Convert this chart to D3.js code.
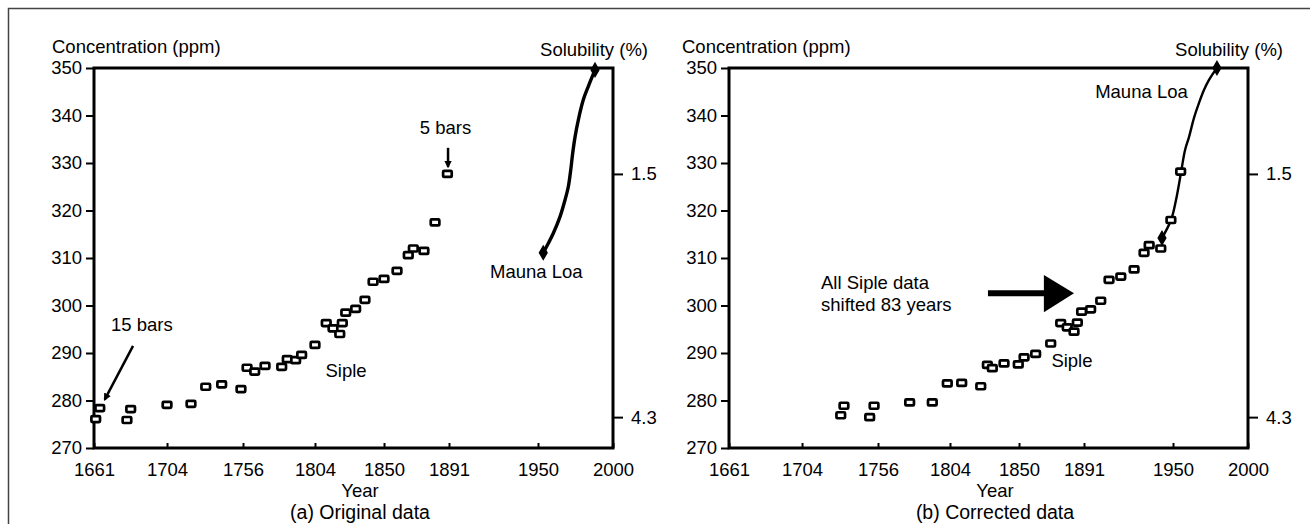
<!DOCTYPE html>
<html>
<head>
<meta charset="utf-8">
<script src="https://cdn.jsdelivr.net/npm/d3@7"></script>
<style>
  body { margin: 0; background: #fff; }
  text { font-family: "Liberation Sans", Arial, Helvetica, sans-serif; fill: #000; }
</style>
</head>
<body>
<div id="chart"></div>
<script>
// data
const yearTicks = [1661, 1704, 1756, 1804, 1850, 1891, 1950, 2000];
const ppmTicks = [270, 280, 290, 300, 310, 320, 330, 340, 350];
const solTicks = [1.5, 4.3];
const solAtPpm = [327.7, 276.5]; // ppm level where each solubility tick sits

// (a) original Siple data
const sipleYearsA = [1662, 1664.4, 1680.4, 1682.6, 1704, 1720.4, 1730.5, 1741.4, 1754.6, 1758.7,
  1763.8, 1770.7, 1781.8, 1785.5, 1791.1, 1795.1, 1804, 1811.5, 1816, 1820.5,
  1822.2, 1824.5, 1831.1, 1837.3, 1842.7, 1850, 1858.2, 1865.3, 1868.5, 1875.2,
  1882.2, 1890];
const siplePpmA = [276.1, 278.4, 275.9, 278.2, 279.1, 279.3, 282.9, 283.4, 282.4, 286.9,
  286.1, 287.3, 287.1, 288.7, 288.5, 289.6, 291.7, 296.3, 295.2, 294.0,
  296.3, 298.5, 299.3, 301.2, 305.0, 305.6, 307.3, 310.6, 312.0, 311.5,
  317.5, 327.7];
const maunaYearsA = [1953.5, 1956.9, 1960.2, 1964.7, 1968, 1970.2, 1971.8, 1973.1, 1974.7, 1976.9, 1980.2, 1983.5, 1988];
const maunaPpmA = [311.1, 313.1, 315.2, 318.7, 322.2, 325.0, 328.5, 332.0, 335.5, 339.1, 343.3, 346.1, 349.6];

// (b) corrected (shifted) Siple data
const sipleYearsB = [1730.5, 1732.7, 1750.3, 1753.3, 1777.1, 1792.2, 1802.2, 1811.8, 1824.5, 1828.9,
  1832.2, 1840, 1849.5, 1853.2, 1860.5, 1870, 1876.3, 1880.4, 1884.7, 1886.8,
  1889.5, 1895.4, 1902.1, 1907.6, 1915.4, 1924.2, 1930.8, 1934.2, 1941.9, 1948.6,
  1955.1];
const siplePpmB = [276.9, 278.9, 276.5, 278.9, 279.6, 279.6, 283.6, 283.7, 283.0, 287.5,
  286.8, 287.8, 287.6, 289.1, 289.8, 292.0, 296.3, 295.4, 294.5, 296.4,
  298.7, 299.2, 301.0, 305.4, 306.1, 307.6, 311.1, 312.7, 312.0, 318.0,
  328.2];
const maunaYearsB = [1942.7, 1948.7, 1952, 1955.4, 1958, 1960.7, 1964, 1967.3, 1970.7, 1974, 1979.3];
const maunaPpmB = [314.2, 318.0, 322.2, 328.1, 332.7, 335.5, 339.5, 342.6, 345.4, 347.5, 350];

// layout
const W = 1310, H = 524;
const plotTop = 68, plotBottom = 448, plotW = 519;
// the year axis in the figure is not linear, these are the tick spacings
const tickFrac = [0, 0.1407, 0.2871, 0.4258, 0.5588, 0.684, 0.8555, 1];

const svg = d3.select("#chart").append("svg")
  .attr("width", W).attr("height", H);

svg.append("defs").append("marker")
  .attr("id", "head")
  .attr("viewBox", "0 0 10 10")
  .attr("refX", 8).attr("refY", 5)
  .attr("markerWidth", 3).attr("markerHeight", 3)
  .attr("orient", "auto")
  .append("path").attr("d", "M0,0L10,5L0,10Z").attr("fill", "#000");

// outer frame (runs off the picture right and bottom)
svg.append("rect")
  .attr("x", 8.5).attr("y", 8.5)
  .attr("width", 1400).attr("height", 600)
  .attr("fill", "none").attr("stroke", "#444").attr("stroke-width", 1.5);

const y = d3.scaleLinear().domain([270, 350]).range([plotBottom, plotTop]);

const panels = [
  { x0: 94, labelX: 52, years: sipleYearsA, ppm: siplePpmA, mYears: maunaYearsA, mPpm: maunaPpmA, lw: 3.4, title: "(a) Original data" },
  { x0: 729, labelX: 682, years: sipleYearsB, ppm: siplePpmB, mYears: maunaYearsB, mPpm: maunaPpmB, lw: 2.4, title: "(b) Corrected data" }
];

panels.forEach((p, pi) => {
  const g = svg.append("g");
  const x = d3.scaleLinear()
    .domain(yearTicks)
    .range(tickFrac.map(f => p.x0 + f * plotW));
  const sol = d3.scaleLinear().domain(solTicks).range(solAtPpm.map(v => y(v)));
  const x1 = p.x0 + plotW;

  // axes
  const yAx = g.append("g")
    .attr("transform", `translate(${p.x0},0)`)
    .call(d3.axisLeft(y).tickValues(ppmTicks).tickSize(8).tickPadding(4));
  const xAx = g.append("g")
    .attr("transform", `translate(0,${plotBottom})`)
    .call(d3.axisBottom(x).tickValues(yearTicks).tickFormat(d3.format("d")).tickSizeInner(-5).tickSizeOuter(0).tickPadding(15));
  const sAx = g.append("g")
    .attr("transform", `translate(${x1},0)`)
    .call(d3.axisRight(sol).tickValues(solTicks).tickFormat(d3.format(".1f")).tickSize(10).tickPadding(8));
  [yAx, xAx, sAx].forEach(a => {
    a.select(".domain").remove();
    a.selectAll("line").attr("stroke", "#000").attr("stroke-width", 2);
    a.selectAll("text").style("font-size", "18.5px").attr("fill", "#000");
  });

  // plot box
  g.append("rect")
    .attr("x", p.x0).attr("y", plotTop)
    .attr("width", plotW).attr("height", plotBottom - plotTop)
    .attr("fill", "none").attr("stroke", "#000").attr("stroke-width", 3);

  // axis titles
  g.append("text").attr("x", p.labelX).attr("y", 53)
    .style("font-size", "18.5px").text("Concentration (ppm)");
  g.append("text").attr("x", x1 + 35).attr("y", 56).attr("text-anchor", "end")
    .style("font-size", "18.5px").text("Solubility (%)");
  g.append("text").attr("x", p.x0 + 266).attr("y", 497).attr("text-anchor", "middle")
    .style("font-size", "18.5px").text("Year");
  g.append("text").attr("x", p.x0 + 266).attr("y", 519).attr("text-anchor", "middle")
    .style("font-size", "19.5px").text(p.title);

  // mauna loa line
  const mData = p.mYears.map((yr, i) => ({ yr, v: p.mPpm[i] }));
  const line = d3.line().x(d => x(d.yr)).y(d => y(d.v)).curve(d3.curveCatmullRom);
  g.append("path").datum(mData)
    .attr("d", line)
    .attr("fill", "none").attr("stroke", "#000").attr("stroke-width", p.lw);
  g.selectAll(".end").data([mData[0], mData[mData.length - 1]]).enter()
    .append("path")
    .attr("transform", d => `translate(${x(d.yr)},${y(d.v)})`)
    .attr("d", d3.symbol(d3.symbolDiamond).size(75));

  // siple squares
  const sData = p.years.map((yr, i) => ({ yr, v: p.ppm[i] }));
  g.selectAll(".pt").data(sData).enter()
    .append("rect")
    .attr("x", d => x(d.yr) - 4.3)
    .attr("y", d => y(d.v) - 3)
    .attr("width", 8.6).attr("height", 6)
    .attr("rx", 1)
    .attr("fill", "#fff").attr("stroke", "#000").attr("stroke-width", 2.7);

  // annotations
  if (pi === 0) {
    g.append("text").attr("x", x(1671)).attr("y", y(294.6)).style("font-size", "18.5px").text("15 bars");
    g.append("line")
      .attr("x1", x(1684)).attr("y1", y(291.5)).attr("x2", x(1667.3)).attr("y2", y(280.2))
      .attr("stroke", "#000").attr("stroke-width", 2.5).attr("marker-end", "url(#head)");
    g.append("text").attr("x", x(1824.7)).attr("y", y(285)).attr("text-anchor", "middle").style("font-size", "18.5px").text("Siple");
    g.append("text").attr("x", x(1888.8)).attr("y", y(336.1)).attr("text-anchor", "middle").style("font-size", "18.5px").text("5 bars");
    g.append("line")
      .attr("x1", x(1890.4)).attr("y1", y(333.2)).attr("x2", x(1890.4)).attr("y2", y(329.2))
      .attr("stroke", "#000").attr("stroke-width", 2.5).attr("marker-end", "url(#head)");
    g.append("text").attr("x", x(1948.9)).attr("y", y(305.8)).attr("text-anchor", "middle").style("font-size", "18.5px").text("Mauna Loa");
  } else {
    g.append("text").attr("x", x(1717)).attr("y", y(303.5)).style("font-size", "18.5px").text("All Siple data");
    g.append("text").attr("x", x(1717)).attr("y", y(298.8)).style("font-size", "18.5px").text("shifted 83 years");
    g.append("line")
      .attr("x1", x(1829.3)).attr("y1", y(302.6)).attr("x2", x(1866.5)).attr("y2", y(302.6))
      .attr("stroke", "#000").attr("stroke-width", 6);
    g.append("path")
      .attr("d", d3.line()([[x(1865.7), y(306.4)], [x(1884.7), y(302.6)], [x(1865.7), y(298.6)]]) + "Z")
      .attr("fill", "#000");
    g.append("text").attr("x", x(1883.4)).attr("y", y(287)).attr("text-anchor", "middle").style("font-size", "18.5px").text("Siple");
    g.append("text").attr("x", x(1929.1)).attr("y", y(343.7)).attr("text-anchor", "middle").style("font-size", "18.5px").text("Mauna Loa");
  }
});
</script>
</body>
</html>
